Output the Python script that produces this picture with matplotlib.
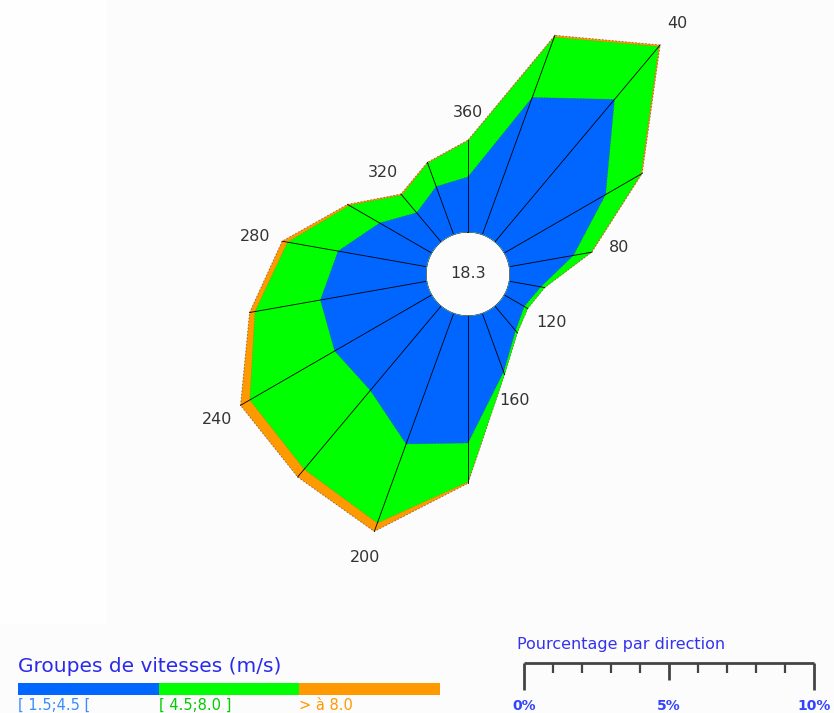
import numpy as np
import matplotlib
matplotlib.use("Agg")
import matplotlib.pyplot as plt
from matplotlib.patches import Rectangle, Circle

# ---------------- data ----------------
directions = [360, 20, 40, 60, 80, 100, 120, 140, 160, 180, 200, 220, 240, 260, 280, 300, 320, 340]
pct_low = [1.90, 5.03, 6.41, 4.03, 2.24, 1.10, 0.79, 1.10, 2.14, 4.38, 4.79, 3.79, 3.86, 3.72, 3.10, 2.07, 1.31, 1.76]
pct_mid = [1.24, 2.21, 2.38, 1.41, 0.62, 0.14, 0.14, 0.10, 0.10, 1.34, 2.90, 3.55, 3.38, 2.29, 1.77, 1.21, 0.79, 0.86]
pct_high = [0.03, 0.07, 0.07, 0.05, 0.03, 0.00, 0.00, 0.00, 0.00, 0.05, 0.31, 0.35, 0.37, 0.19, 0.19, 0.07, 0.05, 0.03]
calm = 18.3
label_dirs = [40, 80, 120, 160, 200, 240, 280, 320, 360]
speed_groups = ["[ 1.5;4.5 [", "[ 4.5;8.0 ]", "> à 8.0"]
group_colors = ["#0066ff", "#00ff00", "#ff9900"]
group_text_colors = ["#3a8cff", "#00cc00", "#ff9900"]
scale_ticks = list(range(0, 11))
scale_labels = {0: "0%", 5: "5%", 10: "10%"}

# ---------------- layout ----------------
W, H = 834, 713
fig = plt.figure(figsize=(W / 100, H / 100), dpi=100, facecolor="#fcfcfc")

bg = fig.add_axes([0, 0, 1, 1])
bg.set_xlim(0, W)
bg.set_ylim(H, 0)
bg.axis("off")
bg.set_zorder(0)
bg.add_patch(Rectangle((0, 0), 107, 624, facecolor="#fefefe", edgecolor="none"))

cx, cy = 468, 274
R = 330
hole_px = 42
k = 29.0
hole = hole_px / k
rmax = (R - hole_px) / k

ax = fig.add_axes([(cx - R) / W, (H - cy - R) / H, 2 * R / W, 2 * R / H], projection="polar")
ax.set_zorder(1)
ax.patch.set_alpha(0)
ax.set_theta_zero_location("N")
ax.set_theta_direction(-1)
ax.set_rorigin(-hole)
ax.set_ylim(0, rmax)
ax.grid(False)
ax.set_xticks([])
ax.set_yticks([])
ax.spines["polar"].set_visible(False)

theta = np.deg2rad(np.array(directions, dtype=float))
low = np.array(pct_low)
mid = low + np.array(pct_mid)
tot = mid + np.array(pct_high)

th_c = np.append(theta, theta[0])
ax.fill(th_c, np.append(tot, tot[0]), facecolor=group_colors[2], zorder=2,
        edgecolor=(0.2, 0.2, 0.2, 0.6), linestyle=(0, (2, 2)), linewidth=0.6)
ax.fill(th_c, np.append(mid, mid[0]), facecolor=group_colors[1], zorder=3,
        edgecolor=(0.2, 0.2, 0.2, 0.25), linestyle=(0, (2, 2)), linewidth=0.5)
ax.fill(th_c, np.append(low, low[0]), facecolor=group_colors[0], zorder=4,
        edgecolor=(0.1, 0.1, 0.3, 0.35), linestyle=(0, (2, 2)), linewidth=0.5)

for t, r in zip(theta, tot):
    ax.plot([t, t], [0, r], color="black", lw=0.6, zorder=5)

ax.add_patch(Circle((0.5, 0.5), hole_px / (2 * R), transform=ax.transAxes,
                    facecolor="white", edgecolor="none", zorder=6))
ax.text(0.5, 0.5, f"{calm:.1f}", transform=ax.transAxes, ha="center", va="center",
        fontsize=11.5, color="#333333", zorder=7)

for d in label_dirs:
    i = directions.index(d)
    ax.text(theta[i], tot[i] + 0.95, str(d), ha="center", va="center",
            fontsize=11.5, color="#333333", zorder=7)

# ---------------- speed legend ----------------
bg.text(18, 667, "Groupes de vitesses (m/s)", ha="left", va="center",
        fontsize=14.5, color="#2a2ae8")
x0, seg_w = 18, 140.7
for j, (lab, c, tc) in enumerate(zip(speed_groups, group_colors, group_text_colors)):
    bg.add_patch(Rectangle((x0 + j * seg_w, 683), seg_w, 12, facecolor=c, edgecolor="none"))
    bg.text(x0 + j * seg_w, 698, lab, ha="left", va="top", fontsize=10.5, color=tc)

# ---------------- percentage scale ----------------
sx0, sy = 524, 663
bg.text(517, 645, "Pourcentage par direction", ha="left", va="center",
        fontsize=11.5, color="#3333ee")
bg.plot([sx0, sx0 + 10 * k], [sy, sy], color="#444444", lw=2, solid_capstyle="butt")
for t in scale_ticks:
    x = sx0 + t * k
    if t in (0, 10):
        L = 27
    elif t == 5:
        L = 17
    else:
        L = 10
    bg.plot([x, x], [sy, sy + L], color="#444444", lw=2 if t in (0, 5, 10) else 1.6,
            solid_capstyle="butt")
    if t in scale_labels:
        bg.text(x, 706, scale_labels[t], ha="center", va="center", fontsize=10,
                fontweight="bold", color="#3344ff")

fig.savefig("out.png", dpi=100, facecolor=fig.get_facecolor())
